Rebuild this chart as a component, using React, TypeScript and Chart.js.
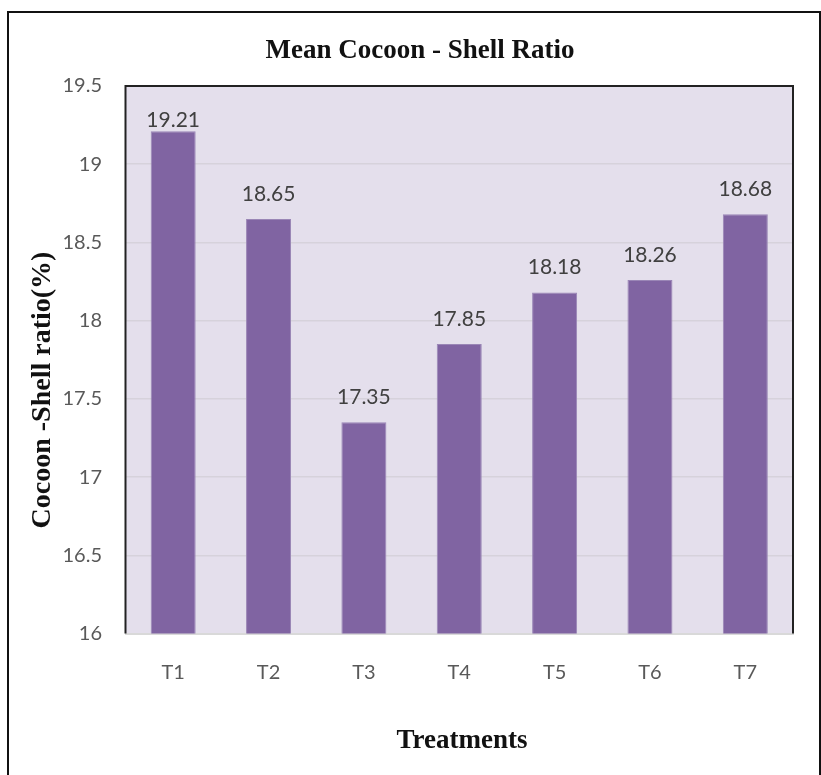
import React, { useEffect, useRef } from "react";
import { Chart, registerables } from "chart.js";

Chart.register(...registerables);

const categories = ["T1", "T2", "T3", "T4", "T5", "T6", "T7"];
const shellRatio = [19.21, 18.65, 17.35, 17.85, 18.18, 18.26, 18.68];
const yMin = 16;
const yMax = 19.5;
const yStep = 0.5;
const chartTitle = "Mean Cocoon - Shell Ratio";
const xAxisTitle = "Treatments";
const yAxisTitle = "Cocoon -Shell ratio(%)";

const W = 821;
const H = 775;

const decorPlugin = {
  id: "decor",
  beforeDraw(chart: any) {
    const { ctx, chartArea: a } = chart;
    ctx.save();
    ctx.fillStyle = "#ffffff";
    ctx.fillRect(0, 0, chart.width, chart.height);
    ctx.fillStyle = "#E4DFEC";
    ctx.fillRect(a.left, a.top, a.right - a.left, a.bottom - a.top);
    ctx.restore();
  },
  afterDatasetsDraw(chart: any) {
    const { ctx, chartArea: a } = chart;
    const meta = chart.getDatasetMeta(0);
    ctx.save();
    ctx.fillStyle = "#404040";
    ctx.font = "21px Lato";
    ctx.textAlign = "center";
    ctx.textBaseline = "middle";
    meta.data.forEach((el: any, i: number) => {
      const v = chart.data.datasets[0].data[i];
      const y = Math.max(el.y - 25, a.top + 34);
      ctx.fillText(v.toFixed(2), el.x, y);
    });
    ctx.restore();
  },
  afterDraw(chart: any) {
    const { ctx, chartArea: a } = chart;
    ctx.save();
    // plot frame (left, top, right)
    ctx.strokeStyle = "#222222";
    ctx.lineWidth = 2;
    ctx.beginPath();
    ctx.moveTo(a.left, a.bottom);
    ctx.lineTo(a.left, a.top);
    ctx.lineTo(a.right, a.top);
    ctx.lineTo(a.right, a.bottom);
    ctx.stroke();
    // outer border
    ctx.strokeStyle = "#111111";
    ctx.lineWidth = 2;
    ctx.strokeRect(8, 12, 812, 800);
    // titles
    ctx.fillStyle = "#111111";
    ctx.textAlign = "center";
    ctx.textBaseline = "alphabetic";
    ctx.font = "bold 27px 'Liberation Serif'";
    ctx.fillText(chartTitle, 420, 58);
    ctx.fillText(xAxisTitle, 462, 748);
    ctx.translate(43, 390);
    ctx.rotate(-Math.PI / 2);
    ctx.textBaseline = "middle";
    ctx.font = "bold 28px 'Liberation Serif'";
    ctx.fillText(yAxisTitle, 0, 0);
    ctx.restore();
  },
};

export default function App() {
  const ref = useRef<HTMLCanvasElement>(null);
  useEffect(() => {
    if (!ref.current) return;
    const chart = new Chart(ref.current, {
      type: "bar",
      data: {
        labels: categories,
        datasets: [
          {
            data: shellRatio,
            backgroundColor: "#8064A2",
            borderColor: "#9A86B6",
            borderWidth: 1,
            categoryPercentage: 1,
            barPercentage: 0.472,
          },
        ],
      },
      options: {
        responsive: false,
        animation: false,
        devicePixelRatio: 1,
        layout: { padding: { top: 86, right: 28, bottom: 0, left: 0 } },
        plugins: {
          legend: { display: false },
          title: { display: false },
          tooltip: { enabled: false },
        },
        scales: {
          x: {
            grid: { display: false },
            border: { display: true, color: "#D9D9D9", width: 2 },
            ticks: {
              color: "#595959",
              font: { family: "Lato", size: 20 },
              padding: 19,
              maxRotation: 0,
            },
            afterFit(scale: any) {
              scale.height = 141.5;
            },
          },
          y: {
            min: yMin,
            max: yMax,
            grid: { color: "#D6D2DB", lineWidth: 1.5, drawTicks: false },
            border: { display: false },
            ticks: {
              stepSize: yStep,
              color: "#595959",
              font: { family: "Lato", size: 20 },
              padding: 23.5,
              callback: (v: any) => String(Number(v)),
            },
            afterFit(scale: any) {
              scale.width = 125.5;
            },
          },
        },
      },
      plugins: [decorPlugin],
    });
    return () => chart.destroy();
  }, []);
  return (
    <div style={{ position: "absolute", left: 0, top: 0, width: W, height: H }}>
      <canvas ref={ref} width={W} height={H} style={{ width: W, height: H, display: "block" }} />
    </div>
  );
}
